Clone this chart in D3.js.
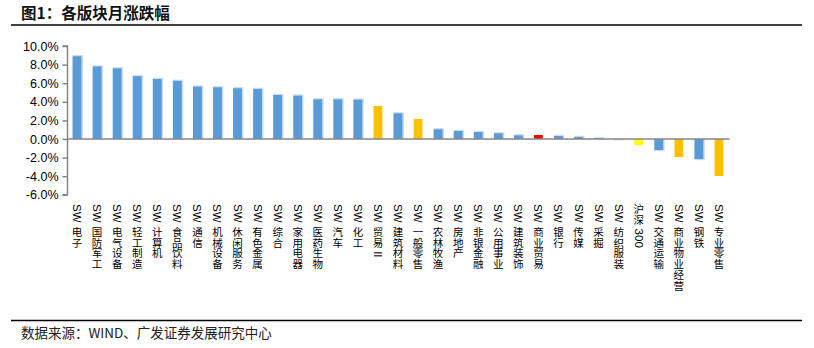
<!DOCTYPE html>
<html><head><meta charset="utf-8">
<script src="https://cdn.jsdelivr.net/npm/d3@7"></script>
<style>
body{margin:0;background:#fff;}
svg{display:block;font-family:"Liberation Sans",Arial,"Noto Sans CJK SC",sans-serif;}
</style></head>
<body><svg id="c" width="814" height="348"></svg>
<script>
const categories = ["SW电子","SW国防军工","SW电气设备","SW轻工制造","SW计算机","SW食品饮料","SW通信","SW机械设备","SW休闲服务","SW有色金属","SW综合","SW家用电器","SW医药生物","SW汽车","SW化工","SW贸易II","SW建筑材料","SW一般零售","SW农林牧渔","SW房地产","SW非银金融","SW公用事业","SW建筑装饰","SW商业贸易","SW银行","SW传媒","SW采掘","SW纺织服装","沪深300","SW交通运输","SW商业物业经营","SW钢铁","SW专业零售"];
const values = [8.9,7.8,7.6,6.75,6.45,6.25,5.63,5.56,5.45,5.38,4.73,4.66,4.27,4.27,4.23,3.55,2.76,2.15,1.04,0.86,0.75,0.61,0.39,0.43,0.32,0.22,0.07,-0.02,-0.65,-1.18,-1.94,-2.15,-3.98];
const colorKeys = ["b","b","b","b","b","b","b","b","b","b","b","b","b","b","b","o","b","o","b","b","b","b","b","r","b","b","b","b","y","b","o","b","o"];
const yTicks = [10,8,6,4,2,0,-2,-4,-6];
const title = "图1：各版块月涨跌幅";
const source = "数据来源：WIND、广发证券发展研究中心";

const palette = {b:"#5B9BD5", o:"#FFC000", r:"#FF0000", y:"#FFFF00"};
const svg = d3.select("#c");

const x = d3.scaleBand().domain(categories).range([67, 729]).paddingInner(0.56).paddingOuter(0.28);
const y = d3.scaleLinear().domain([-6, 10]).range([194.8, 46]);

// title
svg.append("text").attr("x", 21).attr("y", 19).attr("font-size", 15.5).attr("font-weight", "bold")
  .attr("fill", "#111").attr("font-family", "'Noto Sans CJK SC','Liberation Sans',sans-serif").text(title);
svg.append("line").attr("x1", 11).attr("x2", 802).attr("y1", 25).attr("y2", 25).attr("stroke", "#000").attr("stroke-width", 1.5);
svg.append("line").attr("x1", 11).attr("x2", 802).attr("y1", 320.5).attr("y2", 320.5).attr("stroke", "#000").attr("stroke-width", 1.5);
svg.append("text").attr("x", 21).attr("y", 338).attr("font-size", 13.5).attr("fill", "#222")
  .attr("font-family", "'Noto Sans CJK SC','Liberation Sans',sans-serif").text(source);

// halo for blue bars
const data = categories.map((c,i)=>({c, v: values[i], k: colorKeys[i]}));
svg.append("g").selectAll("rect").data(data.filter(d=>d.k==="b")).join("rect")
  .attr("x", d=>x(d.c))
  .attr("width", x.bandwidth()+1.5)
  .attr("y", d=> d.v>=0 ? y(d.v)-1.2 : y(0))
  .attr("height", d=> Math.abs(y(d.v)-y(0))+1.2)
  .attr("fill", "#C9DCF0");
svg.append("g").selectAll("rect").data(data).join("rect")
  .attr("x", d=>x(d.c))
  .attr("width", x.bandwidth())
  .attr("y", d=> Math.min(y(d.v), y(0)))
  .attr("height", d=> Math.abs(y(d.v)-y(0)))
  .attr("fill", d=>palette[d.k]);

// y axis
const yAxis = d3.axisLeft(y).tickValues(yTicks).tickSize(5).tickFormat(d=>d.toFixed(1)+"%");
const gy = svg.append("g").attr("transform","translate(67.5,0)").call(yAxis);
gy.select(".domain").attr("stroke","#868686").attr("stroke-width",1.5).attr("d","M-5,46H0V194.8H-5");
gy.selectAll(".tick line").attr("stroke","#868686").attr("stroke-width",1.5);
gy.selectAll(".tick text").attr("fill","#000").attr("font-size",12.5).attr("x",-9)
  .attr("font-family","'Liberation Sans',Arial,sans-serif");

// zero line
svg.append("line").attr("x1",67).attr("x2",729.5).attr("y1",y(0)).attr("y2",y(0)).attr("stroke","#868686").attr("stroke-width",1.5);

// x labels: vertical stacked, latin runs rotated
const fsL = 11.5, fsC = 10.5, step = 10.8;
const lg = svg.append("g");
categories.forEach(cat=>{
  const cx = x(cat)+x.bandwidth()/2;
  let cur = 204;
  const runs = cat.match(/[A-Za-z0-9]+|[^A-Za-z0-9]+/g);
  runs.forEach((t,ri)=>{
    if (/^[A-Za-z0-9]+$/.test(t)) {
      if (ri > 0) cur += 3;
      const el = lg.append("text")
        .attr("transform", `translate(${cx},${cur}) rotate(90)`)
        .attr("font-size", fsL).attr("fill","#000")
        .attr("dominant-baseline","central")
        .attr("font-family","'Liberation Sans',Arial,sans-serif")
        .text(t);
      cur += el.node().getComputedTextLength() + 4;
    } else {
      const te = lg.append("text")
        .attr("text-anchor","middle")
        .attr("font-size", fsC).attr("fill","#000")
        .attr("font-family","'Noto Sans CJK SC',sans-serif");
      Array.from(t).forEach(ch=>{
        te.append("tspan").attr("x", cx).attr("y", cur + fsC*0.88).text(ch);
        cur += step;
      });
    }
  });
});
</script></body></html>
